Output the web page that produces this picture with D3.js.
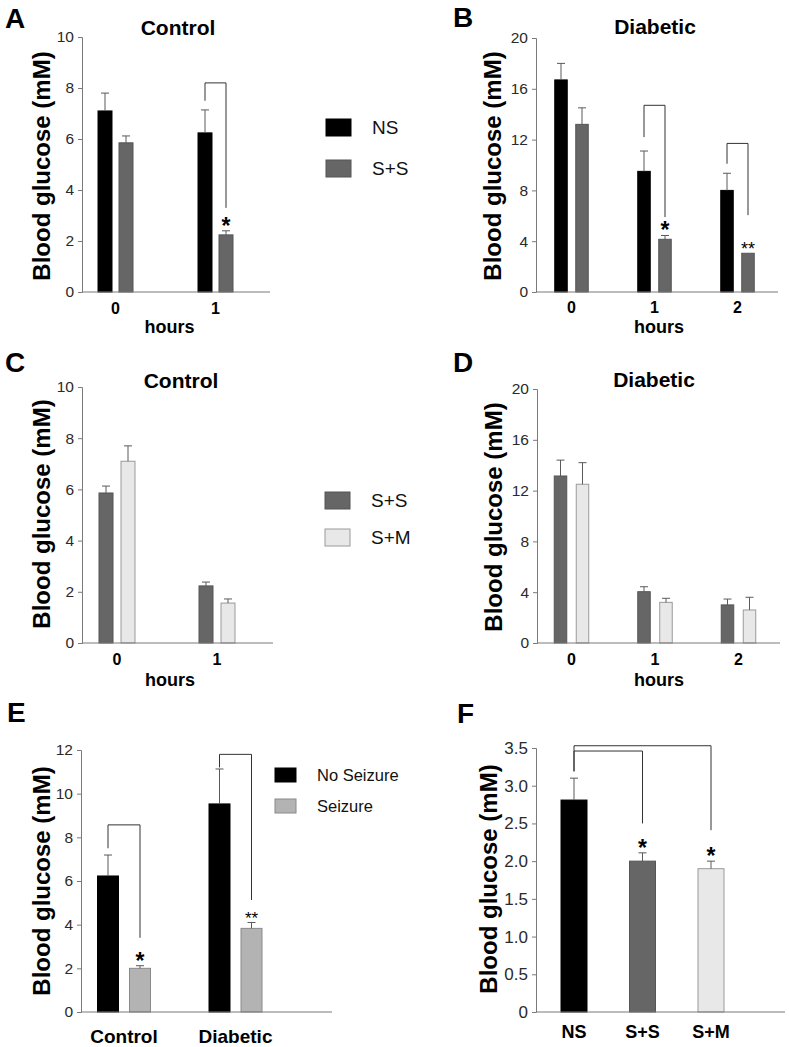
<!DOCTYPE html>
<html><head><meta charset="utf-8">
<script src="https://cdn.jsdelivr.net/npm/d3@7"></script>
<style>
body{margin:0;background:#fff}
svg{display:block}
text{font-family:"Liberation Sans",Arial,Helvetica,sans-serif}
</style>
</head><body>
<svg id="c" width="789" height="1047"></svg>
<script>
// ---------------- data ----------------
const hoursAC = [0, 1];
const hoursBD = [0, 1, 2];
const aNS = [7.1, 6.24],  aNSErr = [0.7, 0.9];
const aSS = [5.85, 2.24], aSSErr = [0.27, 0.16];
const bNS = [16.7, 9.5, 8.0],  bNSErr = [1.3, 1.6, 1.35];
const bSS = [13.2, 4.15, 3.05], bSSErr = [1.3, 0.3, 0.0];
const cSS = [5.86, 2.23], cSSErr = [0.27, 0.15];
const cSM = [7.1, 1.56],  cSMErr = [0.6, 0.16];
const dSS = [13.15, 4.04, 3.0], dSSErr = [1.25, 0.39, 0.46];
const dSM = [12.5, 3.2, 2.6],   dSMErr = [1.7, 0.32, 1.0];
const eGroups = ["Control", "Diabetic"];
const eNoSeizure = [6.23, 9.53], eNoSeizureErr = [0.96, 1.6];
const eSeizure = [2.0, 3.83],    eSeizureErr = [0.12, 0.27];
const fGroups = ["NS", "S+S", "S+M"];
const fValues = [2.81, 2.0, 1.9], fErr = [0.29, 0.11, 0.1];
const ticks10 = [0, 2, 4, 6, 8, 10];
const ticks20 = [0, 4, 8, 12, 16, 20];
const ticks12 = [0, 2, 4, 6, 8, 10, 12];
const ticks35 = [0, 0.5, 1, 1.5, 2, 2.5, 3, 3.5];
// significance brackets: [group, bracket top, left-leg end, right-leg end, label]
const aSig = [[1, 8.2, 7.5, 3.3, "*"]];
const bSig = [[1, 14.7, 12.2, 5.9, "*"], [2, 11.7, 10.1, 6.05, "**"]];
const eSig = [[0, 8.57, 7.5, 3.4, "*"], [1, 11.8, 11.2, 5.13, "**"]];
// F: [from, to, top, left-leg end, right-leg end, label]
const fSig = [[0, 1, 3.46, 3.19, 2.5, "*"], [0, 2, 3.53, 3.19, 2.41, "*"]];

// ---------------- styles ----------------
const COL = {ns: "#000", ss: "#666", ssStroke: "#555", sm: "#e8e8e8", smStroke: "#9a9a9a",
             sz: "#b3b3b3", szStroke: "#8a8a8a", axis: "#7a7a7a", err: "#5a5a5a", sig: "#333"};
const svg = d3.select("#c");

function txt(x, y, s, o = {}) {
  const t = svg.append("text").attr("x", x).attr("y", y).text(s)
    .attr("font-size", o.size || 16).attr("fill", o.fill || "#000")
    .attr("font-weight", o.bold ? "bold" : "normal")
    .attr("text-anchor", o.anchor || "start");
  if (o.rot) t.attr("transform", `rotate(-90,${x},${y})`);
  if (o.base) t.attr("dominant-baseline", o.base);
  return t;
}
function yAxis(y, x0, ticks, fmt, fs) {
  const g = svg.append("g").attr("transform", `translate(${x0},0)`)
    .call(d3.axisLeft(y).tickValues(ticks).tickFormat(fmt).tickSizeOuter(0).tickSize(4).tickPadding(4));
  g.select(".domain").attr("stroke", COL.axis);
  g.selectAll(".tick line").attr("stroke", COL.axis);
  g.selectAll("text").attr("font-size", fs).attr("fill", "#2a2a2a")
    .attr("font-family", '"Liberation Sans",Arial,sans-serif');
}
function xLine(x0, x1, yv) {
  svg.append("line").attr("x1", x0).attr("x2", x1).attr("y1", yv).attr("y2", yv)
    .attr("stroke", COL.axis).attr("stroke-width", 1.2);
}
function xLabels(x, domain, yBase, fs) {
  svg.append("g").selectAll("text").data(domain).join("text")
    .attr("x", d => x(d)).attr("y", yBase).attr("text-anchor", "middle")
    .attr("font-size", fs).attr("font-weight", "bold").text(d => d);
}
function bars(xs, vals, errs, y, w, fill, stroke) {
  const g = svg.append("g");
  g.selectAll("rect").data(vals).join("rect")
    .attr("x", (d, i) => xs[i] - w / 2).attr("width", w)
    .attr("y", d => y(d)).attr("height", d => y(0) - y(d))
    .attr("fill", fill).attr("stroke", stroke).attr("stroke-width", 1);
  g.selectAll("line.e").data(vals).join("line").attr("class", "e")
    .attr("x1", (d, i) => xs[i]).attr("x2", (d, i) => xs[i])
    .attr("y1", d => y(d)).attr("y2", (d, i) => y(d + errs[i]))
    .attr("stroke", COL.err).attr("stroke-width", 1)
    .attr("display", (d, i) => errs[i] > 0 ? null : "none");
  g.selectAll("line.c").data(vals).join("line").attr("class", "c")
    .attr("x1", (d, i) => xs[i] - 4).attr("x2", (d, i) => xs[i] + 4)
    .attr("y1", (d, i) => y(d + errs[i])).attr("y2", (d, i) => y(d + errs[i]))
    .attr("stroke", COL.err).attr("stroke-width", 1)
    .attr("display", (d, i) => errs[i] > 0 ? null : "none");
}
function bracket(x1, x2, top, l, r, y) {
  svg.append("path")
    .attr("d", `M${x1},${y(l)}V${y(top)}H${x2}V${y(r)}`)
    .attr("fill", "none").attr("stroke", COL.sig).attr("stroke-width", 1);
}
function star(x, yTop, label, fs) {
  txt(x, yTop + (label === "*" ? 3 : 2), label, {size: fs, bold: label === "*", anchor: "middle"});
}
function legend(x, ys, fills, strokes, labels, fs, w, h) {
  labels.forEach((l, i) => {
    svg.append("rect").attr("x", x).attr("y", ys[i]).attr("width", w).attr("height", h)
      .attr("fill", fills[i]).attr("stroke", strokes[i]);
    txt(x + w + 21, ys[i] + h / 2, l, {size: fs, base: "central", fill: "#111"});
  });
}
const yTitle = "Blood glucose (mM)";

// ---------------- Panel A ----------------
{
  const x = d3.scaleLinear().domain([0, 1]).range([115.5, 215.5]);
  const y = d3.scaleLinear().domain([0, 10]).range([292, 37]);
  const off = 10.5, w = 14;
  bars(hoursAC.map(h => x(h) - off), aNS, aNSErr, y, w, COL.ns, COL.ns);
  bars(hoursAC.map(h => x(h) + off), aSS, aSSErr, y, w, COL.ss, COL.ssStroke);
  aSig.forEach(s => {
    bracket(x(hoursAC[s[0]]) - off, x(hoursAC[s[0]]) + off, s[1], s[2], s[3], y);
    star(x(hoursAC[s[0]]) + off, y(aSS[s[0]] + aSSErr[s[0]]), s[4], 23);
  });
  yAxis(y, 82, ticks10, d3.format("d"), 15.5);
  xLine(82, 270, 292);
  xLabels(x, hoursAC, 314, 16);
  txt(5, 28, "A", {size: 28, bold: true});
  txt(178, 35, "Control", {size: 21, bold: true, anchor: "middle"});
  txt(169.5, 333, "hours", {size: 18, bold: true, anchor: "middle"});
  txt(50, 166, yTitle, {size: 24, bold: true, anchor: "middle", rot: true});
}
// legend A/B
legend(326, [119, 160], [COL.ns, COL.ss], [COL.ns, COL.ssStroke], ["NS", "S+S"], 19, 25, 17);

// ---------------- Panel B ----------------
{
  const x = d3.scaleLinear().domain([0, 2]).range([571.5, 737.5]);
  const y = d3.scaleLinear().domain([0, 20]).range([292, 38]);
  const off = 10.5, w = 12.5;
  bars(hoursBD.map(h => x(h) - off), bNS, bNSErr, y, w, COL.ns, COL.ns);
  bars(hoursBD.map(h => x(h) + off), bSS, bSSErr, y, w, COL.ss, COL.ssStroke);
  bSig.forEach(s => {
    bracket(x(hoursBD[s[0]]) - off, x(hoursBD[s[0]]) + off, s[1], s[2], s[3], y);
    star(x(hoursBD[s[0]]) + off, y(bSS[s[0]] + bSSErr[s[0]]), s[4], s[4] === "*" ? 23 : 18);
  });
  yAxis(y, 536, ticks20, d3.format("d"), 15.5);
  xLine(536, 778, 292);
  xLabels(x, hoursBD, 313, 16);
  txt(453, 27, "B", {size: 28, bold: true});
  txt(655, 34, "Diabetic", {size: 21, bold: true, anchor: "middle"});
  txt(659, 333, "hours", {size: 18, bold: true, anchor: "middle"});
  txt(501, 166, yTitle, {size: 24, bold: true, anchor: "middle", rot: true});
}

// ---------------- Panel C ----------------
{
  const x = d3.scaleLinear().domain([0, 1]).range([117, 217]);
  const y = d3.scaleLinear().domain([0, 10]).range([643, 387]);
  const off = 11, w = 14;
  bars(hoursAC.map(h => x(h) - off), cSS, cSSErr, y, w, COL.ss, COL.ssStroke);
  bars(hoursAC.map(h => x(h) + off), cSM, cSMErr, y, w, COL.sm, COL.smStroke);
  yAxis(y, 82, ticks10, d3.format("d"), 15.5);
  xLine(82, 273, 643);
  xLabels(x, hoursAC, 665, 16);
  txt(5, 372, "C", {size: 28, bold: true});
  txt(181, 388, "Control", {size: 21, bold: true, anchor: "middle"});
  txt(170, 686, "hours", {size: 18, bold: true, anchor: "middle"});
  txt(50, 514, yTitle, {size: 24, bold: true, anchor: "middle", rot: true});
}
// legend C/D
legend(325, [492, 529], [COL.ss, COL.sm], [COL.ssStroke, COL.smStroke], ["S+S", "S+M"], 19, 25, 17);

// ---------------- Panel D ----------------
{
  const x = d3.scaleLinear().domain([0, 2]).range([571.5, 738.5]);
  const y = d3.scaleLinear().domain([0, 20]).range([643, 389]);
  const off = 11, w = 12.5;
  bars(hoursBD.map(h => x(h) - off), dSS, dSSErr, y, w, COL.ss, COL.ssStroke);
  bars(hoursBD.map(h => x(h) + off), dSM, dSMErr, y, w, COL.sm, COL.smStroke);
  yAxis(y, 537, ticks20, d3.format("d"), 15.5);
  xLine(537, 780, 643);
  xLabels(x, hoursBD, 665, 16);
  txt(453, 372, "D", {size: 28, bold: true});
  txt(654, 387, "Diabetic", {size: 21, bold: true, anchor: "middle"});
  txt(659, 686, "hours", {size: 18, bold: true, anchor: "middle"});
  txt(502, 517, yTitle, {size: 24, bold: true, anchor: "middle", rot: true});
}

// ---------------- Panel E ----------------
{
  const x = d3.scalePoint().domain(eGroups).range([124, 235.5]);
  const y = d3.scaleLinear().domain([0, 12]).range([1012, 750]);
  const off = 16, w = 21;
  bars(eGroups.map(g => x(g) - off), eNoSeizure, eNoSeizureErr, y, w, COL.ns, COL.ns);
  bars(eGroups.map(g => x(g) + off), eSeizure, eSeizureErr, y, w, COL.sz, COL.szStroke);
  eSig.forEach(s => {
    const g = eGroups[s[0]];
    bracket(x(g) - off, x(g) + off, s[1], s[2], s[3], y);
    star(x(g) + off, y(eSeizure[s[0]] + eSeizureErr[s[0]]), s[4], s[4] === "*" ? 23 : 17);
  });
  yAxis(y, 81, ticks12, d3.format("d"), 15.5);
  xLine(81, 332, 1012);
  xLabels(x, eGroups, 1043, 19);
  legend(275, [768, 799], [COL.ns, COL.sz], [COL.ns, COL.szStroke], ["No Seizure", "Seizure"], 16.5, 21, 14);
  txt(7, 722, "E", {size: 28, bold: true});
  txt(50, 881, yTitle, {size: 24, bold: true, anchor: "middle", rot: true});
}

// ---------------- Panel F ----------------
{
  const x = d3.scalePoint().domain(fGroups).range([574, 711]);
  const y = d3.scaleLinear().domain([0, 3.5]).range([1012, 748]);
  const w = 26;
  const fills = [COL.ns, COL.ss, COL.sm], strokes = [COL.ns, COL.ssStroke, COL.smStroke];
  fGroups.forEach((g, i) => bars([x(g)], [fValues[i]], [fErr[i]], y, w, fills[i], strokes[i]));
  fSig.forEach(s => {
    bracket(x(fGroups[s[0]]), x(fGroups[s[1]]), s[2], s[3], s[4], y);
    star(x(fGroups[s[1]]), y(fValues[s[1]] + fErr[s[1]]), s[5], 23);
  });
  yAxis(y, 536, ticks35, d => d === 0 ? "0" : d3.format(".1f")(d), 17);
  xLine(536, 785, 1012);
  xLabels(x, fGroups, 1038, 18);
  txt(457, 723, "F", {size: 28, bold: true});
  txt(497, 879, yTitle, {size: 24, bold: true, anchor: "middle", rot: true});
}
</script>
</body></html>
